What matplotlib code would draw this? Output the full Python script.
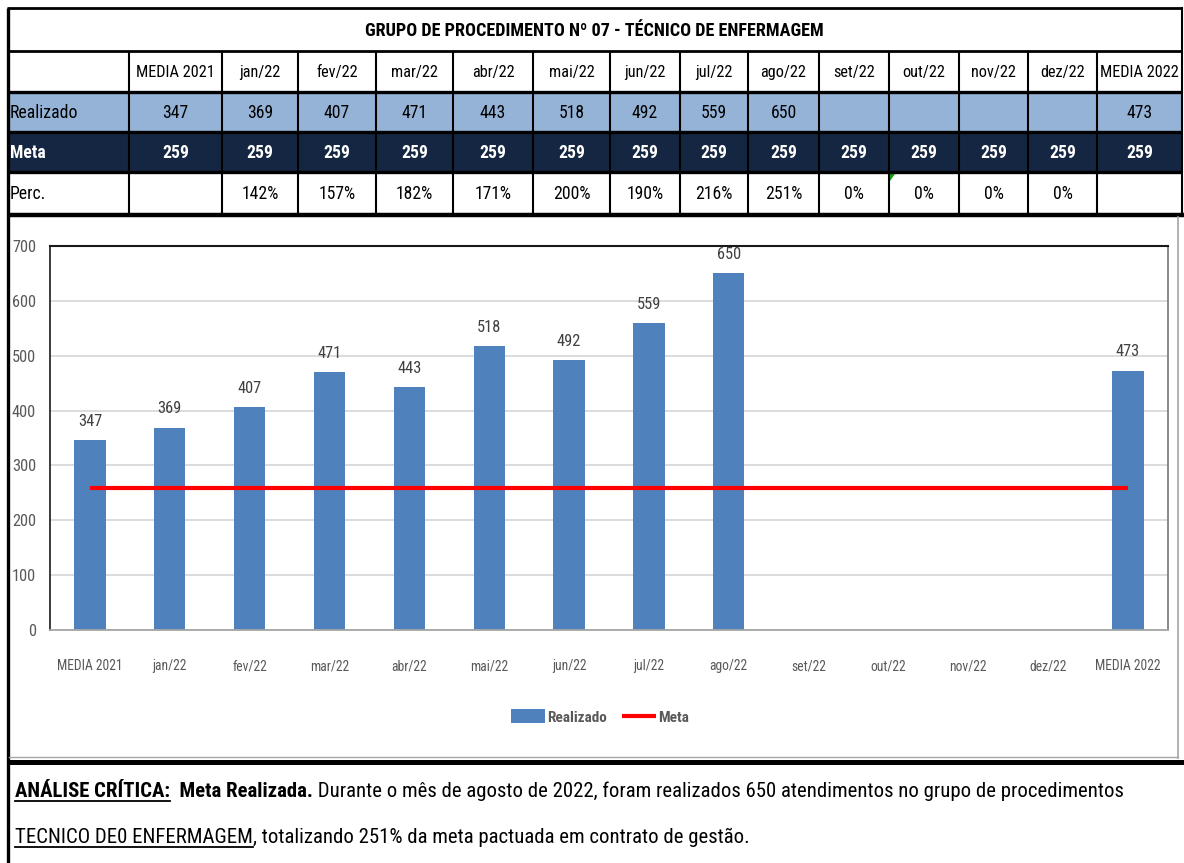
import matplotlib
matplotlib.use('Agg')
import numpy as np
import matplotlib.pyplot as plt
from matplotlib.patches import Rectangle, Polygon

plt.rcParams['font.family'] = ['Liberation Sans Narrow', 'Noto Sans Condensed', 'Roboto Condensed',
                               'Open Sans Condensed', 'Liberation Sans', 'DejaVu Sans']

# dados do grupo de procedimento
titulo = 'GRUPO DE PROCEDIMENTO Nº 07 - TÉCNICO DE ENFERMAGEM'
meses = ['MEDIA 2021', 'jan/22', 'fev/22', 'mar/22', 'abr/22', 'mai/22', 'jun/22',
         'jul/22', 'ago/22', 'set/22', 'out/22', 'nov/22', 'dez/22', 'MEDIA 2022']
realizado = [347, 369, 407, 471, 443, 518, 492, 559, 650, None, None, None, None, 473]
meta = [259, 259, 259, 259, 259, 259, 259, 259, 259, 259, 259, 259, 259, 259]
perc = ['', '142%', '157%', '182%', '171%', '200%', '190%', '216%', '251%',
        '0%', '0%', '0%', '0%', '']

linha1 = [('ANÁLISE CRÍTICA:', 'bold', True),
          ('  Meta Realizada.', 'bold', False),
          (' Durante o mês de agosto de 2022, foram realizados 650 atendimentos no grupo de procedimentos', 'normal', False)]
linha2 = [('TECNICO DE0 ENFERMAGEM', 'normal', True),
          (', totalizando 251% da meta pactuada em contrato de gestão.', 'normal', False)]

AZUL_CLARO = '#95B3D7'
AZUL_ESCURO = '#142641'
AZUL_BARRA = '#4F81BD'
CINZA = '#595959'

W, H = 1184, 863
fig = plt.figure(figsize=(W / 100, H / 100), dpi=100)
renderer = fig.canvas.get_renderer()


def largura(partes, tam):
    total = 0
    for texto, peso, _ in partes:
        t = fig.text(0, 0, texto, fontsize=tam, fontweight=peso)
        total += t.get_window_extent(renderer).width
        t.remove()
    return total


def tamanho(texto, alvo, peso='normal'):
    # tamanho de fonte para o texto ocupar 'alvo' pixels de largura
    return 20 * alvo / largura([(texto, peso, False)], 20)


# camada da pagina em pixels
pg = fig.add_axes([0, 0, 1, 1])
pg.set_xlim(0, W)
pg.set_ylim(H, 0)
pg.axis('off')

# ---- tabela ----
col_x = [7, 129, 222, 298, 376, 453, 533, 610, 680, 748, 819, 889, 959, 1028, 1097, 1182]
row_y = [8, 51, 92, 132, 172, 213]
fs_cab = min(tamanho('MEDIA 2022', 79), 14)
fs_num = min(tamanho('Realizado', 68), 15)
fs_tit = tamanho(titulo, 458, 'bold')

pg.add_patch(Rectangle((col_x[0], row_y[2]), col_x[-1] - col_x[0], row_y[3] - row_y[2],
                       color=AZUL_CLARO, lw=0))
pg.add_patch(Rectangle((col_x[0], row_y[3]), col_x[-1] - col_x[0], row_y[4] - row_y[3],
                       color=AZUL_ESCURO, lw=0))

pg.text((col_x[0] + col_x[-1]) / 2, (row_y[0] + row_y[1]) / 2 + 1, titulo,
        fontsize=fs_tit, fontweight='bold', ha='center', va='center')


def meio(i):
    return (row_y[i] + row_y[i + 1]) / 2 + 1


pg.text(col_x[0] + 3, meio(2), 'Realizado', fontsize=fs_num, va='center')
pg.text(col_x[0] + 3, meio(3), 'Meta', fontsize=fs_num, va='center', color='white', fontweight='bold')
pg.text(col_x[0] + 3, meio(4), 'Perc.', fontsize=fs_num, va='center')

for i, mes in enumerate(meses):
    cx = (col_x[i + 1] + col_x[i + 2]) / 2
    pg.text(cx, meio(1), mes, fontsize=fs_cab, ha='center', va='center')
    if realizado[i] is not None:
        pg.text(cx, meio(2), str(realizado[i]), fontsize=fs_num, ha='center', va='center')
    pg.text(cx, meio(3), str(meta[i]), fontsize=fs_num, ha='center', va='center',
            color='white', fontweight='bold')
    pg.text(cx, meio(4), perc[i], fontsize=fs_num, ha='center', va='center')

# grade da tabela
for k, y in enumerate(row_y[:-1]):
    pg.plot([col_x[0], col_x[-1]], [y, y], color='black', lw=2.0 if k < 2 else 2.4,
            solid_capstyle='butt')
pg.plot([col_x[0], W], [row_y[-1] + 2, row_y[-1] + 2], color='black', lw=3.2, solid_capstyle='butt')
for x in col_x[1:-1]:
    pg.plot([x, x], [row_y[1], row_y[-1]], color='black', lw=1.5, solid_capstyle='butt')
pg.plot([col_x[-1], col_x[-1]], [row_y[0], row_y[-1]], color='black', lw=1.5)

# indicador verde no canto da celula
pg.add_patch(Polygon([(col_x[11] + 1, row_y[4] + 2), (col_x[11] + 6, row_y[4] + 2),
                      (col_x[11] + 1, row_y[4] + 9)], closed=True, color='#12A012', lw=0))

# moldura do grafico e da analise
pg.plot([8, 8], [row_y[0], H], color='black', lw=2.4, solid_capstyle='butt')
pg.plot([1178, 1178], [217, 758], color='#A6A6A6', lw=1.2)
pg.plot([9, 1178], [757, 757], color='#A6A6A6', lw=1.0)
pg.plot([8, W], [762, 762], color='black', lw=3.6, solid_capstyle='butt')

# ---- grafico ----
ax = fig.add_axes([50 / W, (H - 630) / H, 1118 / W, 384 / H])
x = np.arange(len(meses))
valores = np.array([np.nan if v is None else v for v in realizado], dtype=float)
barras = ax.bar(x, valores, width=0.39, color=AZUL_BARRA, label='Realizado', zorder=2)
linha_meta, = ax.plot(x, meta, color='#FF0000', lw=3.0, label='Meta', zorder=3,
                      solid_capstyle='butt')

fs_eixo = min(tamanho('MEDIA 2021', 66), 12)
for xi, v in zip(x, realizado):
    if v is not None:
        ax.annotate(str(v), (xi, v), xytext=(0, 8), textcoords='offset points',
                    ha='center', va='bottom', fontsize=fs_eixo + 2, color='#404040')

ax.set_xlim(-0.5, len(meses) - 0.5)
ax.set_ylim(0, 700)
ax.set_yticks(range(0, 701, 100))
ax.set_xticks(x)
ax.set_xticklabels(meses)
ax.tick_params(axis='both', length=0, labelsize=fs_eixo, labelcolor=CINZA)
ax.tick_params(axis='x', pad=21)
ax.tick_params(axis='y', pad=10, labelsize=fs_eixo + 2)
ax.grid(axis='y', color='#D9D9D9', lw=1.3, zorder=0)
ax.set_axisbelow(True)
ax.spines['top'].set_color('#1A1A1A')
ax.spines['top'].set_linewidth(1.5)
ax.spines['left'].set_color('#1A1A1A')
ax.spines['left'].set_linewidth(1.2)
ax.spines['right'].set_color('#808080')
ax.spines['right'].set_linewidth(1.3)
ax.spines['bottom'].set_color('#A6A6A6')
ax.spines['bottom'].set_linewidth(1.3)

fs_leg = tamanho('Realizado', 60, 'bold')
fig.legend(handles=[barras, linha_meta], loc='center', bbox_to_anchor=(600 / W, 1 - 717 / H),
           ncol=2, frameon=False, prop={'weight': 'bold', 'size': fs_leg}, labelcolor=CINZA,
           handlelength=2.2, handleheight=1.0, handletextpad=0.15, columnspacing=1.0)

# ---- analise critica ----
def escreve(x0, y, partes, tam):
    xp = x0
    for texto, peso, sub in partes:
        t = pg.text(xp, y, texto, fontsize=tam, fontweight=peso, ha='left', va='baseline')
        w = t.get_window_extent(renderer).width
        if sub:
            pg.plot([xp, xp + w], [y + 4, y + 4], color='black', lw=1.3)
        xp += w


tam_txt = 20 * (1120 - 15) / largura(linha1, 20)
escreve(15, 797, linha1, tam_txt)
escreve(15, 843, linha2, tam_txt)

fig.savefig('out.png', dpi=100)
